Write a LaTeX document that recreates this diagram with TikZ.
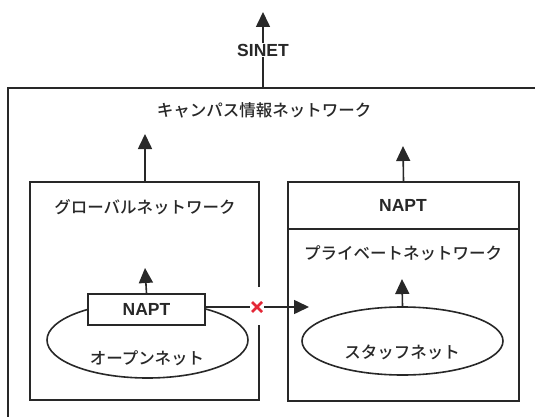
\documentclass[tikz,border=0pt]{standalone}
\usepackage{fontspec}
\setmainfont{Liberation Sans}
\newfontfamily\jp{Noto Sans CJK JP Medium}
\usetikzlibrary{arrows.meta,shapes.geometric,calc}
\definecolor{ln}{RGB}{40,40,40}
\definecolor{crossred}{RGB}{228,40,55}
\tikzset{
  lat/.style={font=\bfseries\fontsize{17.5}{20}\selectfont, text=ln, inner sep=0pt},
  jpt/.style={font=\jp\fontsize{16.5}{20}\selectfont, text=ln, inner sep=0pt},
  arr/.style={-{Triangle[width=14pt,length=15pt]}},
  boxline/.style={draw=ln, line width=1.6pt},
  ell/.style={ellipse, draw=ln, line width=1.6pt, inner sep=0pt},
}
\begin{document}
\begin{tikzpicture}[x=1pt,y=-1pt, line width=1.6pt, ln]
\useasboundingbox[fill=white] (0,0) rectangle (535,417);

% outer campus network box (extends beyond picture)
\draw[boxline] (540,88) -- (8,88) -- (8,422);
\coordinate (outertop) at (263,88);
\node[lat] (sinet) at (263,50) {SINET};
\coordinate (sinettip) at (263,12);
\draw[draw=ln, arr] (sinet.north) -- (sinettip);
\draw[draw=ln] (outertop) -- (sinet.south);
\node[jpt] (campus) at (264,110) {キャンパス情報ネットワーク};

% global network box (gap on the right side)
\coordinate (gtop) at (145,182);
\coordinate (gtip) at (145,134);
\draw[boxline] (259,287) -- (259,182) -- (30,182) -- (30,400) -- (259,400) -- (259,325);
\draw[draw=ln, arr] (gtop) -- (gtip);
\node[jpt] (global) at (145,207) {グローバルネットワーク};

% open net ellipse + NAPT
\node[ell, minimum width=201pt, minimum height=76pt] (openell) at (147.5,340) {};
\node[jpt] (open) at (147,358) {オープンネット};
\node[lat, draw=ln, line width=1.6pt, fill=white, minimum width=117pt, minimum height=31pt] (napt1) at (146.5,309.5) {NAPT};
\coordinate (napt1tip) at (145,268);
\draw[draw=ln, arr] (napt1.north) -- (napt1tip);

% private network box
\node[boxline, minimum width=231pt, minimum height=219pt, inner sep=0pt] (pbox) at (403.5,291.5) {};
\draw[boxline] (288,229) -- (519,229);
\node[lat] (napt2) at (403,205) {NAPT};
\coordinate (ptip) at (403,146);
\draw[draw=ln, arr] (pbox.north) -- (ptip);
\node[jpt] (private) at (403,253) {プライベートネットワーク};

% staff net ellipse
\node[ell, minimum width=201pt, minimum height=68pt] (staffell) at (402.5,341) {};
\node[jpt] (staff) at (402,352) {スタッフネット};
\coordinate (stip) at (402,279);
\draw[draw=ln, arr] (staffell.north) -- (stip);

% blocked connection
\coordinate (xc) at (257,307);
\coordinate (xl) at (250,307);
\coordinate (xr) at (264,307);
\coordinate (htip) at (309,307);
\draw[draw=ln] (napt1.east |- xc) -- (xl);
\draw[draw=ln, arr] (xr) -- (htip);
\draw[crossred, line width=2.6pt] ($(xc)+(-5,-5)$) -- ($(xc)+(5,5)$);
\draw[crossred, line width=2.6pt] ($(xc)+(-5,5)$) -- ($(xc)+(5,-5)$);
\end{tikzpicture}
\end{document}
